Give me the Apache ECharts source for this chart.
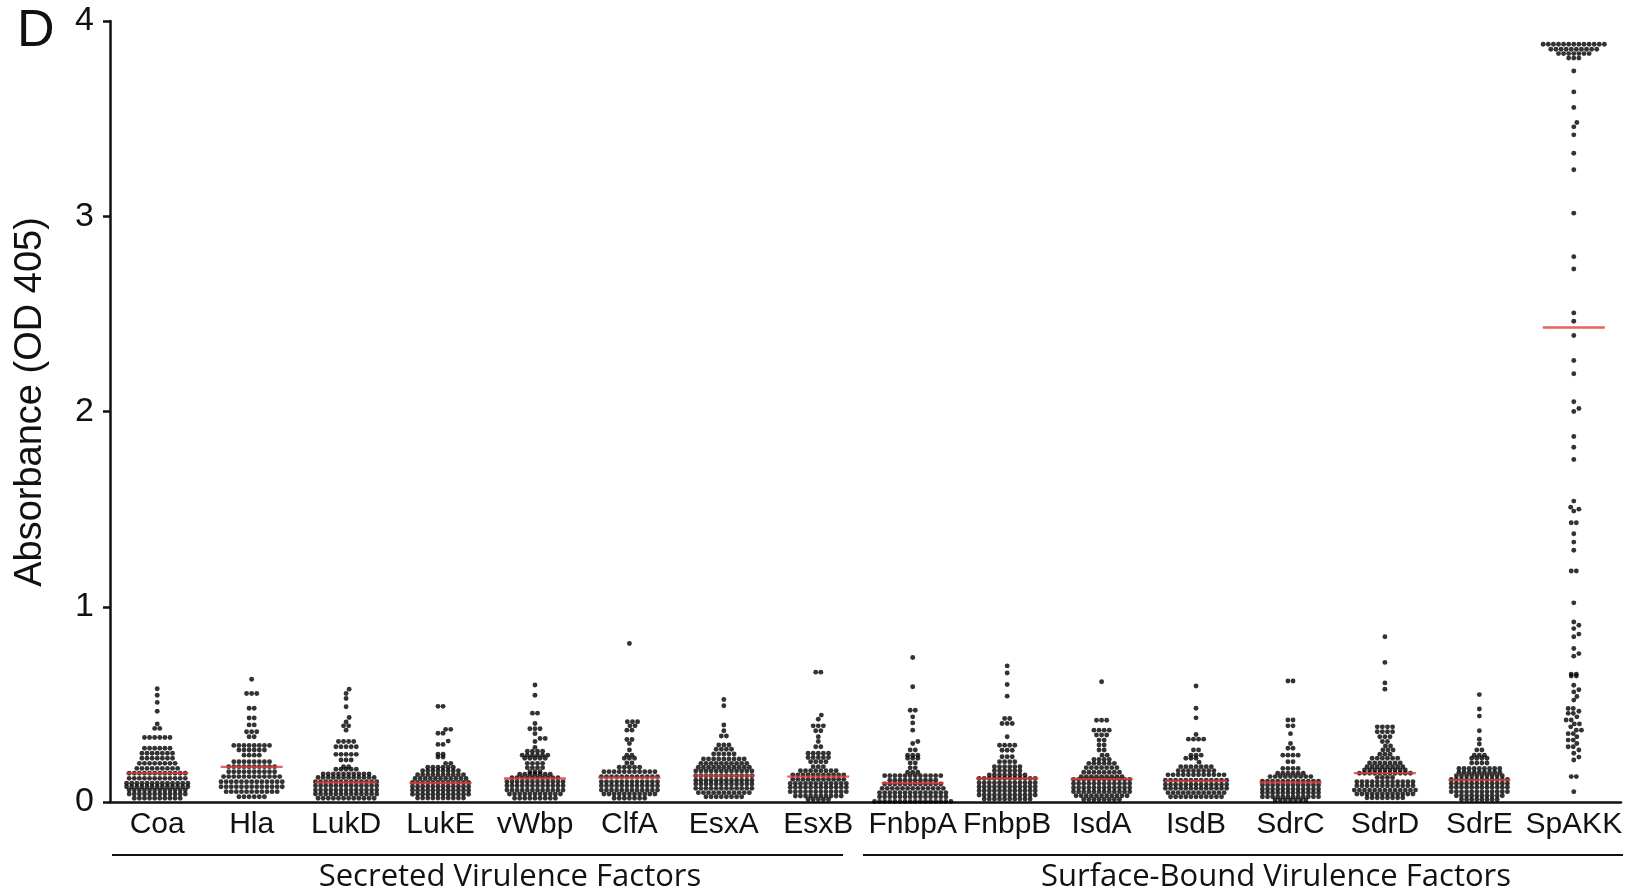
<!DOCTYPE html>
<html>
<head>
<meta charset="utf-8">
<script src="https://cdn.jsdelivr.net/npm/echarts@6/dist/echarts.min.js"></script>
<style>
    html, body { margin: 0; padding: 0; background: #fff; }
    #main { width: 1636px; height: 895px; }
</style>
</head>
<body>
<div id="main"></div>
<script>
// categories along the x axis
var categories = ['Coa', 'Hla', 'LukD', 'LukE', 'vWbp', 'ClfA', 'EsxA', 'EsxB',
    'FnbpA', 'FnbpB', 'IsdA', 'IsdB', 'SdrC', 'SdrD', 'SdrE', 'SpAKK'];

// each row: [absorbance, number of dots at that level]
var coa = [[0.58,1],[0.547,1],[0.51,1],[0.465,1],[0.40,1],[0.377,2],[0.33,6],[0.275,6],[0.25,7],[0.224,7],[0.198,8],[0.172,9],[0.147,12],[0.121,12],[0.096,13],[0.078,13],[0.061,12],[0.041,12],[0.019,10]];
var hla = [[0.629,1],[0.556,3],[0.48,2],[0.43,2],[0.395,2],[0.36,3],[0.334,2],[0.29,8],[0.266,6],[0.24,4],[0.206,8],[0.181,10],[0.155,10],[0.13,12],[0.104,13],[0.078,13],[0.053,11],[0.027,6]];
var lukD = [[0.578,1],[0.556,1],[0.53,1],[0.488,1],[0.433,1],[0.41,1],[0.39,2],[0.368,1],[0.31,4],[0.283,5],[0.244,5],[0.215,3],[0.181,2],[0.168,5],[0.144,10],[0.126,12],[0.104,13],[0.083,13],[0.061,13],[0.041,13],[0.019,12]];
var lukE = [[0.49,2],[0.372,2],[0.352,2],[0.312,1],[0.295,2],[0.245,2],[0.23,2],[0.198,2],[0.178,6],[0.16,8],[0.14,10],[0.12,11],[0.1,12],[0.08,12],[0.06,12],[0.04,12],[0.02,10]];
var vWbp = [[0.599,1],[0.547,1],[0.455,2],[0.402,1],[0.375,3],[0.35,1],[0.325,2],[0.31,1],[0.28,1],[0.26,4],[0.24,6],[0.224,5],[0.198,4],[0.176,4],[0.155,3],[0.142,7],[0.125,10],[0.104,12],[0.083,12],[0.061,12],[0.041,11],[0.019,9]];
var clfA = [[0.812,1],[0.411,3],[0.39,2],[0.368,2],[0.32,2],[0.30,1],[0.266,1],[0.24,2],[0.224,3],[0.2,2],[0.178,5],[0.155,11],[0.13,12],[0.104,12],[0.083,12],[0.061,12],[0.041,11],[0.019,7]];
var esxA = [[0.525,1],[0.493,1],[0.394,1],[0.365,1],[0.338,2],[0.292,3],[0.27,4],[0.246,5],[0.22,9],[0.198,10],[0.178,11],[0.159,12],[0.135,12],[0.112,12],[0.092,12],[0.07,12],[0.048,11],[0.027,8]];
var esxB = [[0.665,2],[0.445,1],[0.424,1],[0.39,3],[0.365,2],[0.334,1],[0.31,1],[0.283,2],[0.25,5],[0.228,5],[0.206,4],[0.181,3],[0.16,8],[0.139,11],[0.116,11],[0.095,12],[0.075,12],[0.053,12],[0.031,10],[0.013,5]];
var fnbpA = [[0.74,1],[0.59,1],[0.47,2],[0.436,1],[0.405,1],[0.368,1],[0.31,1],[0.3,1],[0.266,2],[0.24,3],[0.224,3],[0.2,2],[0.175,2],[0.152,3],[0.135,12],[0.112,10],[0.092,12],[0.07,13],[0.048,14],[0.027,14],[0.003,16]];
var fnbpB = [[0.697,1],[0.661,1],[0.602,1],[0.542,1],[0.428,2],[0.402,3],[0.334,1],[0.291,4],[0.265,3],[0.232,3],[0.206,4],[0.181,6],[0.16,6],[0.138,8],[0.121,12],[0.099,12],[0.078,12],[0.058,12],[0.036,12],[0.015,10]];
var isdA = [[0.616,1],[0.419,3],[0.368,4],[0.343,3],[0.317,2],[0.292,2],[0.266,2],[0.24,2],[0.218,4],[0.198,6],[0.176,7],[0.152,8],[0.13,9],[0.116,12],[0.095,12],[0.073,12],[0.053,12],[0.032,11],[0.013,8]];
var isdB = [[0.594,1],[0.48,1],[0.431,1],[0.346,1],[0.322,4],[0.266,2],[0.24,3],[0.224,3],[0.204,1],[0.181,7],[0.16,8],[0.139,12],[0.112,13],[0.09,13],[0.07,13],[0.048,12],[0.027,11]];
var sdrC = [[0.62,2],[0.42,2],[0.39,2],[0.35,1],[0.30,1],[0.275,2],[0.24,4],[0.206,2],[0.172,4],[0.147,6],[0.13,9],[0.107,12],[0.087,12],[0.066,12],[0.048,12],[0.027,12],[0.01,7]];
var sdrD = [[0.846,1],[0.715,1],[0.61,1],[0.578,1],[0.385,4],[0.36,4],[0.334,3],[0.31,2],[0.287,2],[0.266,3],[0.245,3],[0.224,6],[0.2,7],[0.181,8],[0.164,9],[0.147,11],[0.126,4],[0.104,12],[0.083,12],[0.061,13],[0.041,12],[0.022,8]];
var sdrE = [[0.55,1],[0.476,1],[0.44,1],[0.365,1],[0.322,1],[0.297,1],[0.266,2],[0.24,3],[0.224,4],[0.2,4],[0.172,9],[0.152,9],[0.135,10],[0.115,12],[0.095,12],[0.075,12],[0.053,12],[0.032,10],[0.013,8]];
var spAKK = [[3.881,13],[3.855,10],[3.833,7],[3.81,3],[3.744,1],[3.637,1],[3.557,1],[3.48,1],[3.458,1],[3.417,1],[3.323,1],[3.238,1],[3.016,1],
    [2.793,1],[2.73,1],[2.505,1],[2.462,1],[2.389,1],[2.261,1],[2.193,1],[2.05,1],[2.015,1],[2.0,1],[1.872,1],[1.817,1],[1.754,1],
    [1.541,1],[1.51,1],[1.50,1],[1.49,1],[1.43,2],[1.374,1],[1.331,1],[1.289,1],[1.183,2],[1.02,1],[0.922,1],[0.905,1],[0.888,1],
    [0.86,1],[0.846,1],[0.786,1],[0.76,1],[0.747,1],[0.655,2],[0.645,2],[0.598,1],[0.575,1],[0.564,1],[0.54,1],[0.522,1],[0.479,2],
    [0.465,1],[0.454,2],[0.436,1],[0.42,2],[0.40,2],[0.385,1],[0.368,2],[0.35,2],[0.334,1],[0.317,2],[0.3,1],[0.283,2],[0.266,1],
    [0.25,1],[0.23,1],[0.215,1],[0.13,2],[0.053,1]];

// red median bars
var medians = [0.148, 0.18, 0.10, 0.097, 0.12, 0.125, 0.135, 0.13, 0.097, 0.12, 0.118, 0.108, 0.10, 0.148, 0.112, 2.43];

var groups = [coa, hla, lukD, lukE, vWbp, clfA, esxA, esxB, fnbpA, fnbpB, isdA, isdB, sdrC, sdrD, sdrE, spAKK];

var chart = echarts.init(document.getElementById('main'));

var axisColor = '#111';
var base = {
    animation: false,
    backgroundColor: '#fff',
    grid: {left: 110, right: 15, top: 21, bottom: 93},
    xAxis: [{
        type: 'category',
        data: categories,
        boundaryGap: true,
        axisLine: {lineStyle: {color: axisColor, width: 2.5}},
        axisTick: {alignWithLabel: true, length: 8, lineStyle: {color: axisColor, width: 2.5}},
        axisLabel: {interval: 0, color: axisColor, fontSize: 30, fontFamily: 'Liberation Sans', margin: 8},
        splitLine: {show: false}
    }, {
        type: 'value', min: -0.5, max: 15.5, show: false
    }],
    yAxis: {
        type: 'value', min: 0, max: 4, interval: 1,
        axisLine: {show: true, onZero: false, lineStyle: {color: axisColor, width: 2.5}},
        axisTick: {show: true, length: 7, lineStyle: {color: axisColor, width: 2.5}},
        axisLabel: {color: axisColor, fontSize: 34, fontFamily: 'Liberation Sans', margin: 16},
        splitLine: {show: false}
    },
    graphic: [
        {type: 'text', left: 17, top: 6, style: {text: 'D', font: '52px "Liberation Sans"', fill: '#111'}},
        {type: 'text', x: 31, y: 402, rotation: Math.PI / 2,
            style: {text: 'Absorbance (OD 405)', font: '38px "Liberation Sans"', fill: '#111', align: 'center', verticalAlign: 'middle'}},
        {type: 'line', shape: {x1: 112, y1: 855, x2: 843, y2: 855}, style: {stroke: '#111', lineWidth: 2}},
        {type: 'line', shape: {x1: 863, y1: 855, x2: 1623, y2: 855}, style: {stroke: '#111', lineWidth: 2}},
        {type: 'text', x: 510, y: 877, style: {text: 'Secreted Virulence Factors', font: '31px "Open Sans"', fill: '#111', align: 'center', verticalAlign: 'middle'}},
        {type: 'text', x: 1276, y: 877, style: {text: 'Surface-Bound Virulence Factors', font: '31px "Open Sans"', fill: '#111', align: 'center', verticalAlign: 'middle'}}
    ],
    series: [{type: 'scatter', xAxisIndex: 1, data: []}]
};
chart.setOption(base);

// row layout like a Prism scatter: each level is a centred row of dots,
// sparse rows slide sideways a little when they would touch the row below
var GAP = 5.1;
var pxPerCat = chart.convertToPixel({xAxisIndex: 1}, 1) - chart.convertToPixel({xAxisIndex: 1}, 0);

function layoutRows(rows, catIndex) {
    var sorted = rows.slice().sort(function (a, b) { return a[0] - b[0]; });
    var placed = [], out = [];
    sorted.forEach(function (r) {
        var py = chart.convertToPixel({yAxisIndex: 0}, r[0]);
        var n = r[1], xs = [];
        for (var k = 0; k < n; k++) xs.push((k - (n - 1) / 2) * GAP);
        var shift = 0;
        if (n <= 3) {
            var tries = [0, 0.6, -0.6, 1, -1, 1.5, -1.5];
            for (var t = 0; t < tries.length; t++) {
                var s = tries[t] * GAP, clash = false;
                for (var k2 = 0; k2 < n && !clash; k2++) {
                    for (var j = 0; j < placed.length; j++) {
                        var dx = placed[j].x - (xs[k2] + s), dy = placed[j].y - py;
                        if (dx * dx + dy * dy < GAP * GAP * 0.8) { clash = true; break; }
                    }
                }
                if (!clash) { shift = s; break; }
            }
        }
        xs.forEach(function (x) {
            placed.push({x: x + shift, y: py});
            out.push([catIndex + (x + shift) / pxPerCat, r[0]]);
        });
    });
    return out;
}

var dots = [];
groups.forEach(function (g, i) { dots = dots.concat(layoutRows(g, i)); });

var medianData = medians.map(function (m, i) { return [i, m]; });

chart.setOption({
    series: [{
        type: 'scatter',
        xAxisIndex: 1,
        data: dots,
        symbol: 'circle',
        symbolSize: 4.9,
        itemStyle: {color: '#000'},
        silent: true,
        z: 2
    }, {
        type: 'scatter',
        xAxisIndex: 1,
        data: medianData,
        symbol: 'rect',
        symbolSize: [62, 2.4],
        itemStyle: {color: '#e23a3c'},
        silent: true,
        z: 3
    }]
});
</script>
</body>
</html>
